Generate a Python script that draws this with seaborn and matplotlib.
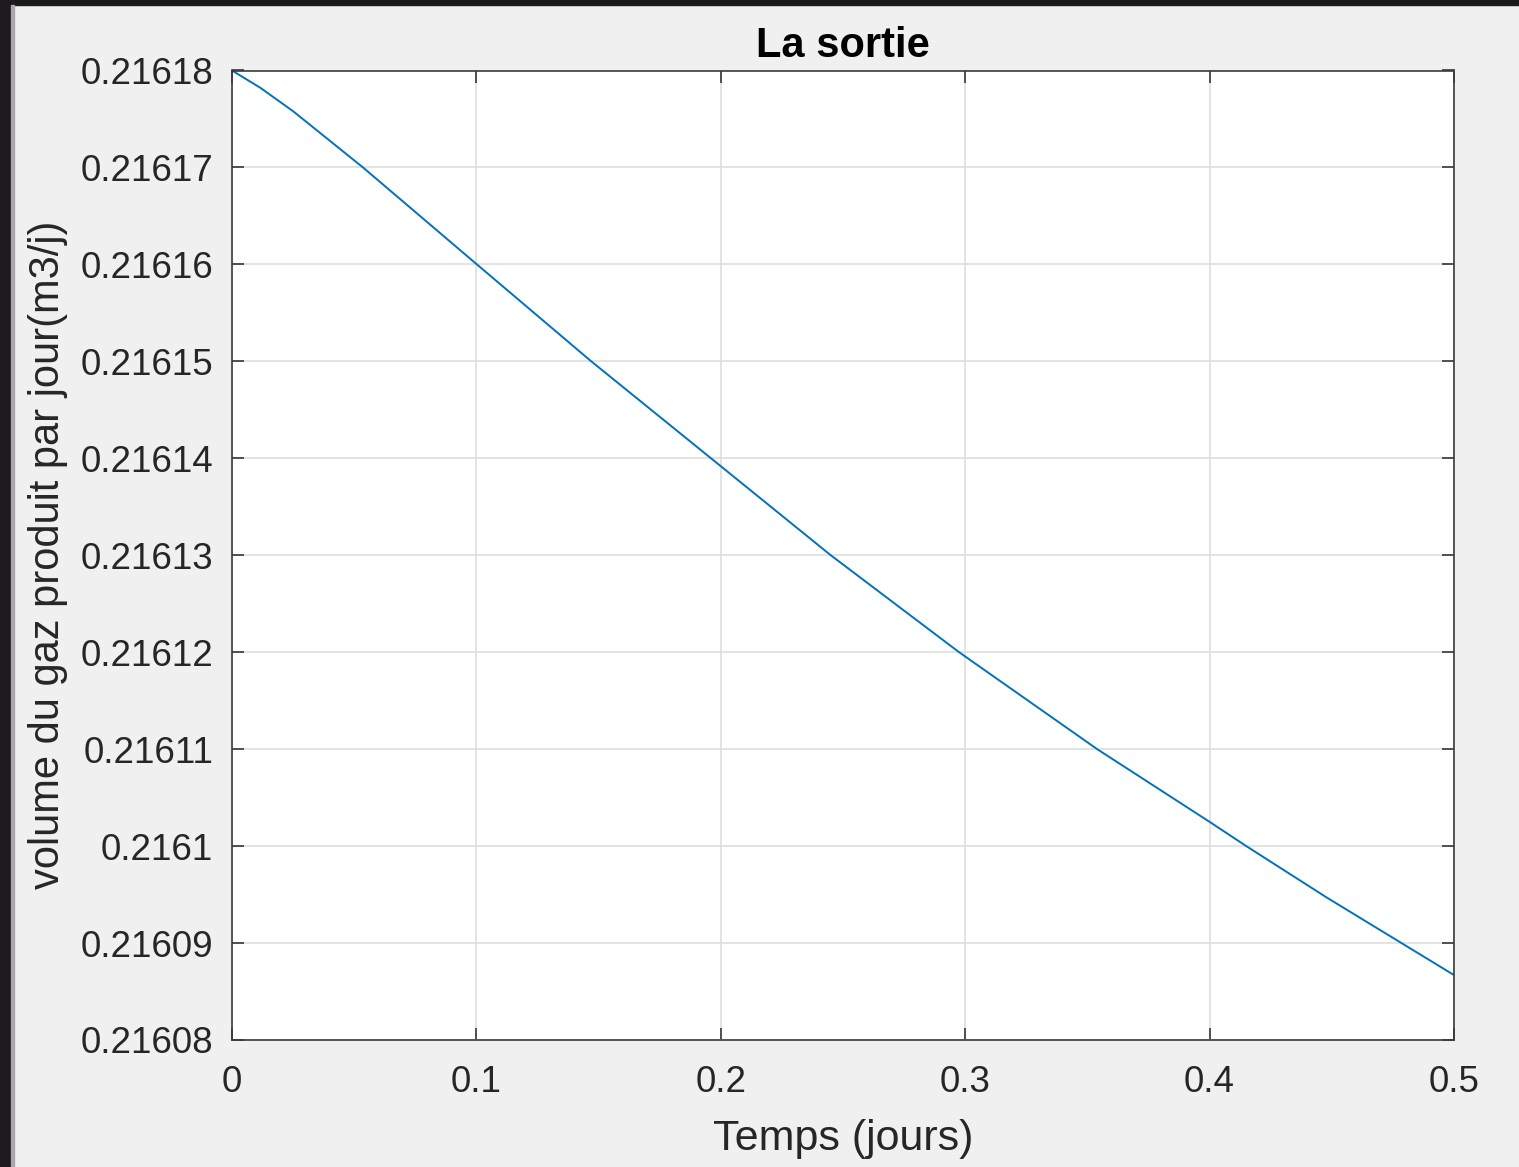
import matplotlib
matplotlib.use('Agg')
import matplotlib.pyplot as plt
from matplotlib.patches import Rectangle
from matplotlib.ticker import FuncFormatter
import seaborn as sns
import pandas as pd


# ─── Data ────────────────────────────────────────────────────────────────────

temps = [0.0, 0.0117, 0.025, 0.0536, 0.1002, 0.147, 0.196, 0.245, 0.2975,
         0.354, 0.4, 0.415, 0.4479, 0.4785, 0.5]
volume = [0.21618, 0.2161782, 0.2161758, 0.21617, 0.21616, 0.21615, 0.21614,
          0.21613, 0.21612, 0.21611, 0.2161025, 0.21610, 0.2160947, 0.21609,
          0.2160867]

x_ticks = [0, 0.1, 0.2, 0.3, 0.4, 0.5]
y_ticks = [0.21608, 0.21609, 0.21610, 0.21611, 0.21612, 0.21613,
           0.21614, 0.21615, 0.21616, 0.21617, 0.21618]

title = 'La sortie'
x_label = 'Temps (jours)'
y_label = 'volume du gaz produit par jour(m3/j)'


# ─── Style ───────────────────────────────────────────────────────────────────

sns.set_theme(style='ticks')
plt.rcParams['font.family'] = ['Liberation Sans', 'DejaVu Sans']

BG = '#f0f0f0'
INK = '#262626'
LINE = '#0072BD'

df = pd.DataFrame({'t': temps, 'v': volume})

fig = plt.figure(figsize=(15.19, 11.67), dpi=100, facecolor=BG)
ax = fig.add_axes([232 / 1519, 1 - 1040 / 1167,
                   (1454 - 232) / 1519, (1040 - 70.5) / 1167])
ax.set_facecolor('white')

sns.lineplot(data=df, x='t', y='v', ax=ax, color=LINE, linewidth=1.4)

ax.set_xlim(0, 0.5)
ax.set_ylim(0.21608, 0.21618)
ax.set_xticks(x_ticks)
ax.set_yticks(y_ticks)
ax.xaxis.set_major_formatter(FuncFormatter(lambda v, p: f'{v:g}'))
ax.yaxis.set_major_formatter(FuncFormatter(lambda v, p: f'{v:.5f}'.rstrip('0')))

ax.grid(True, color='#dedede', linewidth=1.2)
ax.tick_params(direction='in', length=8.6, width=1.1, color=INK,
               labelcolor=INK, labelsize=26.5, top=True, right=True)
ax.tick_params(axis='y', pad=13.5)
ax.tick_params(axis='x', pad=18)
for s in ax.spines.values():
    s.set_visible(True)
    s.set_color('#3a3a3a')
    s.set_linewidth(1.2)

ax.set_title(title, fontsize=30, fontweight='bold', color='black', pad=10)
ax.set_xlabel(x_label, fontsize=31, color=INK, labelpad=14)
ax.set_ylabel(y_label, fontsize=30, color=INK, labelpad=9)

# screenshot frame (dark border on top/left)
fig.patches.append(Rectangle((0, 1 - 4.5 / 1167), 1, 4.5 / 1167,
                             transform=fig.transFigure, color='#1c1a1c', zorder=0))
fig.patches.append(Rectangle((0, 0), 11 / 1519, 1,
                             transform=fig.transFigure, color='#1c1a1c', zorder=0))
fig.patches.append(Rectangle((11 / 1519, 0), 3 / 1519, 1 - 4.5 / 1167,
                             transform=fig.transFigure, color='#a8a8a8', zorder=0))

fig.savefig('out.png', dpi=100, facecolor=BG)
plt.close(fig)
